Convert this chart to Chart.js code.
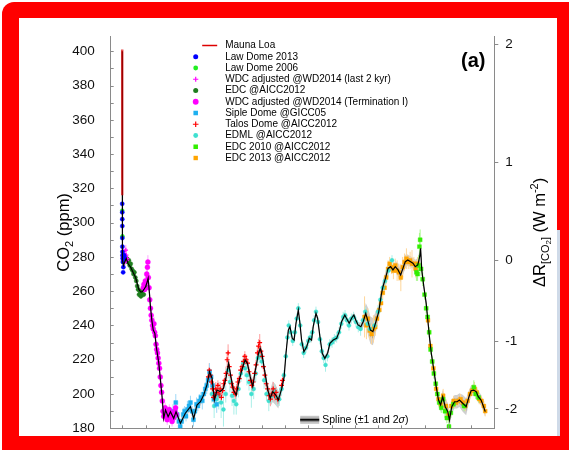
<!DOCTYPE html>
<html>
<head>
<meta charset="utf-8">
<script src="https://cdn.jsdelivr.net/npm/chart.js@4.4.1/dist/chart.umd.min.js"></script>
<style>
  html, body { margin: 0; padding: 0; background: #fff; }
  #wrap { position: relative; width: 569px; height: 450px; overflow: hidden; background: #fff; }
  #frame { position: absolute; left: 2px; top: 2px; width: 580px; height: 460px; background: #ff0000; border-radius: 12px; }
  #inner { position: absolute; left: 19px; top: 18px; width: 538px; height: 418px; background: #fff; }
  #strip { position: absolute; left: 557px; top: 230px; width: 3px; height: 206px; background: #cfdae8; }
  canvas { position: absolute; left: 0; top: 0; }
</style>
</head>
<body>
<div id="wrap">
  <div id="frame"></div>
  <div id="inner"></div>
  <div id="strip"></div>
  <canvas id="chart" width="569" height="450"></canvas>
</div>
<script>
const FONT = "'Liberation Sans', Arial, Helvetica, sans-serif";

// axis ranges
const ageMin = -5, ageMax = 160;
const co2Min = 180, co2Max = 408.6;
const C0 = 278;                      // reference CO2 for the forcing axis
const forcingTicks = [-2, -1, 0, 1, 2];

// Mauna Loa: [age kyr BP, CO2 ppm]
const maunaLoa = [[-0.065, 401], [-0.06, 390], [-0.05, 370], [-0.04, 353], [-0.03, 339], [-0.02, 327], [-0.008, 316]];

// ice core records: [age kyr BP, CO2 ppm, 1 sigma error]
const lawDome2013 = [[-0.04, 311, 1], [-0.025, 306, 1], [-0.01, 302, 1], [0.0, 298, 1], [0.02, 291, 1], [0.04, 286, 1],
  [0.07, 283, 1], [0.1, 281, 1], [0.15, 279, 1], [0.25, 277, 1], [0.35, 271, 1], [0.45, 274, 1], [0.6, 279, 1],
  [0.75, 281, 1], [0.9, 280, 1]];
const lawDome2006 = [[-0.03, 307, 1.5], [0.05, 292, 1.5], [0.3, 277, 1.5], [1.2, 279, 1.5], [1.8, 278, 1.5]];
const wdcLast2k = [[0.1, 280, 2], [0.3, 278, 2], [0.5, 281, 3], [0.7, 283, 2], [0.9, 279, 2], [1.1, 277, 2],
  [1.3, 280, 2], [1.5, 284, 3], [1.7, 281, 2], [1.9, 278, 2], [2.1, 279, 2]];
const edc = [[2.0, 279, 1.5], [2.4, 277, 1.5], [2.8, 278, 1.5], [3.2, 275, 1.5], [3.6, 276, 1.5], [4.0, 273, 1.5],
  [4.4, 272, 1.5], [4.8, 270, 1.5], [5.2, 271, 1.5], [5.6, 268, 1.5], [6.0, 266, 1.5], [6.4, 263, 1.5],
  [6.8, 261, 1.5], [7.2, 258, 1.5], [7.6, 260, 1.5], [8.0, 257, 1.5], [8.4, 259, 1.5], [8.8, 261, 1.5],
  [9.2, 258, 1.5], [9.6, 261, 1.5], [10.0, 263, 1.5]];
const wdcTermI = [[9.0, 262, 3], [9.3, 264, 3], [9.6, 261, 3], [9.9, 266, 3], [10.2, 265, 3], [10.5, 270, 4],
  [10.8, 274, 4], [11.0, 277, 4], [11.2, 268, 3], [11.5, 262, 3], [11.8, 255, 3], [12.1, 250, 3], [12.4, 246, 3],
  [12.7, 243, 3], [13.0, 240, 3], [13.3, 238, 3], [13.6, 241, 4], [13.9, 236, 3], [14.2, 234, 3], [14.5, 229, 3],
  [14.8, 226, 3], [15.1, 224, 3], [15.4, 221, 3], [15.7, 218, 3], [16.0, 215, 3], [16.3, 210, 3], [16.6, 205, 3],
  [16.9, 201, 3], [17.2, 196, 3], [17.5, 190, 3], [17.8, 187, 3], [18.1, 189, 3], [18.4, 192, 3], [18.7, 190, 3],
  [19.0, 188, 3], [19.3, 185, 3], [19.6, 187, 3], [19.9, 189, 3], [20.2, 191, 3], [20.5, 189, 3], [20.8, 188, 3],
  [21.1, 186, 3], [21.4, 184, 3], [21.7, 187, 3], [22.0, 186, 3], [22.3, 188, 3], [22.6, 190, 3], [22.9, 192, 3],
  [23.2, 188, 3]];
const sipleDome = [[21.8, 190, 4], [22.5, 187, 3], [23.0, 195, 5], [23.6, 188, 3], [24.3, 184, 4], [24.9, 181, 3],
  [25.5, 184, 3], [26.2, 188, 4], [26.8, 190, 3], [27.4, 187, 3], [28.0, 191, 5], [28.7, 193, 3], [29.3, 195, 4],
  [30.0, 190, 3], [30.6, 185, 4], [31.2, 190, 3], [31.9, 194, 4], [32.5, 193, 3], [33.1, 196, 4], [33.8, 198, 3],
  [34.4, 196, 5], [35.0, 200, 3], [35.7, 203, 4], [36.3, 205, 5], [36.9, 208, 3], [37.5, 213, 5], [38.2, 210, 4],
  [38.8, 205, 3], [39.4, 197, 5], [40.0, 200, 3], [40.6, 194, 5]];
const talosDome = [[37.0, 210, 3], [37.4, 214, 4], [37.8, 211, 3], [38.3, 207, 3], [38.8, 203, 3], [39.2, 198, 3],
  [39.7, 199, 3], [40.2, 203, 4], [40.6, 201, 3], [41.1, 205, 3], [41.6, 200, 3], [42.1, 203, 4], [42.6, 198, 3],
  [43.1, 202, 3], [43.6, 206, 3], [44.1, 208, 3], [44.6, 212, 4], [45.1, 220, 4], [45.5, 224, 5], [46.0, 216, 3],
  [46.5, 211, 3], [47.0, 206, 3], [47.5, 204, 3], [48.0, 201, 3], [48.6, 200, 3], [49.1, 203, 3], [49.7, 207, 3],
  [50.3, 209, 3], [50.9, 214, 3], [51.5, 216, 3], [52.1, 219, 4], [52.7, 222, 3], [53.3, 220, 3], [53.9, 218, 3],
  [54.5, 213, 3], [55.1, 208, 3], [55.7, 205, 3], [56.3, 207, 3], [56.9, 212, 3], [57.5, 217, 3], [58.1, 224, 4],
  [58.6, 228, 4], [59.1, 230, 5], [59.6, 225, 3], [60.1, 222, 3], [60.7, 216, 3], [61.3, 211, 3], [61.9, 206, 3],
  [62.5, 203, 3], [63.1, 199, 3], [63.7, 197, 4], [64.3, 200, 3], [64.9, 203, 4], [65.5, 199, 3], [66.1, 201, 3],
  [66.8, 197, 3], [68.5, 205, 3], [68.9, 208, 3]];
const edml = [[38.5, 200, 5], [39.5, 193, 7], [40.5, 197, 5], [41.5, 199, 8], [42.5, 195, 9], [43.5, 191, 10],
  [44.5, 200, 5], [45.5, 214, 5], [46.3, 207, 6], [47.2, 199, 6], [48.0, 196, 8], [49.0, 194, 6], [50.0, 203, 5],
  [51.0, 212, 5], [52.0, 218, 4], [52.8, 215, 5], [53.6, 211, 6], [54.5, 207, 5], [55.5, 200, 8], [56.5, 203, 6],
  [57.4, 212, 5], [58.3, 221, 4], [59.2, 222, 4], [60.0, 219, 4], [61.0, 208, 5], [62.0, 200, 4], [63.0, 196, 6],
  [64.2, 199, 4], [65.3, 202, 4], [66.5, 198, 5], [67.5, 197, 4], [68.5, 203, 4], [69.5, 211, 3], [70.3, 222, 3],
  [71.0, 233, 3], [71.6, 240, 3], [72.4, 236, 3], [73.3, 231, 3], [74.2, 236, 3], [75.0, 244, 3], [75.7, 250, 3],
  [76.5, 240, 3], [77.2, 229, 3], [78.0, 224, 3], [79.0, 227, 3], [80.0, 231, 3], [80.8, 233, 3], [81.7, 236, 3],
  [82.5, 243, 3], [83.3, 248, 3], [84.2, 242, 3], [85.0, 232, 3], [85.8, 225, 3], [86.6, 221, 3], [87.4, 217, 4],
  [88.2, 222, 3], [89.2, 229, 3], [90.2, 230, 3], [91.2, 232, 3], [92.2, 233, 3], [93.2, 236, 3], [94.2, 241, 3],
  [95.0, 245, 3], [95.8, 246, 3], [96.6, 243, 3], [97.5, 240, 3], [98.5, 244, 3], [99.5, 245, 3], [100.5, 242, 3],
  [101.5, 239, 3], [102.5, 238, 4], [103.5, 243, 3], [104.5, 248, 3], [105.5, 241, 3], [106.5, 238, 4],
  [108.5, 240, 3], [110.0, 248, 4], [111.0, 255, 3], [112.0, 262, 3], [113.0, 266, 3], [114.5, 272, 3],
  [116.0, 278, 3]];
const edc2010 = [[126.5, 271, 5], [127.0, 270, 4], [127.4, 275, 6], [127.8, 286, 8], [128.1, 290, 6], [128.5, 273, 4],
  [129.2, 267, 4], [130.0, 258, 3], [130.7, 250, 3], [131.3, 245, 3], [132.0, 236, 3], [132.6, 226, 3],
  [133.3, 219, 3], [134.0, 212, 3], [134.8, 206, 3], [135.5, 200, 3], [136.3, 195, 3], [137.2, 192, 3],
  [138.0, 197, 3], [138.8, 190, 4], [139.6, 186, 3], [140.5, 181, 4], [141.3, 189, 3], [142.4, 194, 3],
  [147.0, 193, 3], [151.2, 204, 4], [152.0, 200, 3], [153.2, 198, 3]];
const edc2013 = [[104.2, 245, 12], [105.0, 240, 8], [105.6, 244, 6], [106.4, 237, 5], [107.2, 235, 6], [108.0, 238, 8],
  [108.8, 239, 5], [109.6, 244, 4], [110.5, 249, 4], [111.3, 253, 5], [112.0, 259, 4], [112.8, 262, 4],
  [113.5, 268, 4], [114.3, 273, 5], [115.0, 276, 4], [115.8, 274, 4], [116.6, 272, 5], [117.4, 275, 4],
  [118.2, 272, 6], [119.0, 271, 5], [119.8, 268, 8], [120.6, 274, 6], [121.4, 277, 5], [122.2, 279, 6],
  [123.0, 277, 4], [123.8, 278, 5], [124.6, 276, 8], [125.4, 276, 4], [126.2, 273, 5], [127.0, 276, 4],
  [131.5, 243, 3], [132.5, 228, 3], [133.8, 215, 3], [135.0, 203, 3], [136.0, 197, 3], [137.0, 194, 3],
  [138.0, 199, 4], [139.2, 193, 4], [140.3, 188, 4], [141.5, 193, 3], [142.5, 196, 3], [143.5, 195, 3],
  [144.5, 196, 3], [145.5, 197, 3], [146.5, 195, 3], [147.5, 193, 3], [148.5, 196, 3], [149.5, 200, 3],
  [150.5, 202, 3], [151.5, 203, 4], [152.5, 201, 3], [153.5, 197, 3], [154.5, 196, 3], [155.5, 193, 3],
  [156.1, 190, 3]];

// smoothing spline: [age kyr BP, CO2 ppm, 1 sigma]
const spline = [[-0.065, 400, 0.8], [-0.04, 355, 0.8], [-0.02, 326, 0.8], [0.0, 311, 0.8], [0.05, 296, 0.8],
  [0.1, 285, 0.8], [0.2, 278, 0.8], [0.5, 275, 0.8], [1.0, 277, 0.8], [1.7, 279, 0.8], [2.5, 276, 0.8],
  [3.6, 274, 0.8], [4.6, 271, 0.8], [5.7, 268, 0.8], [6.5, 264, 0.8], [7.1, 261, 0.8], [8.0, 259.5, 0.8],
  [8.6, 259.7, 0.8], [9.3, 261, 0.8], [10.0, 262.6, 0.8], [10.6, 265, 1], [11.1, 267.5, 1.2], [11.6, 260, 1.2],
  [12.1, 251, 1.2], [12.7, 243, 1.2], [13.3, 237.3, 1.2], [14.0, 235.4, 1.2], [14.6, 227.6, 1.2],
  [15.7, 217.9, 1.2], [16.4, 208, 1.2], [17.1, 198.4, 1.2], [17.8, 185.8, 1.2], [18.6, 190.7, 1.2],
  [19.7, 186.8, 1.2], [20.7, 189.7, 1.2], [22.1, 185.8, 1.2], [23.1, 189.7, 1.2], [25.0, 182.9, 1.2],
  [27.1, 188.8, 1.2], [29.3, 192.6, 1.2], [30.7, 185.8, 1.2], [32.1, 193.6, 1.2], [33.6, 195.5, 1.2],
  [35.0, 199.4, 1.2], [36.4, 205.3, 1.2], [37.5, 213, 1.6], [38.6, 209.2, 1.6], [39.6, 196.5, 1.6],
  [40.7, 202.3, 1.2], [42.1, 201.4, 1.2], [43.5, 203.3, 1.2], [44.7, 210.1, 1.2], [45.7, 217.9, 1.2],
  [46.7, 210.1, 1.2], [47.8, 202.3, 1.2], [49.0, 199.4, 1.2], [50.0, 206.3, 1.2], [51.4, 214, 1.2],
  [52.8, 219.9, 1.2], [53.8, 217.9, 1.2], [55.0, 210.1, 1.6], [56.1, 204.3, 2], [57.1, 213, 1.6],
  [58.6, 223.8, 1.2], [59.3, 226.7, 1.2], [60.0, 223.8, 1.2], [61.4, 212.1, 1.2], [62.6, 202.3, 1.6],
  [63.6, 197.5, 2.5], [64.7, 201.4, 3], [66.0, 199.4, 3], [67.1, 196.5, 2.5], [68.6, 203.3, 1.6],
  [69.6, 210, 1.2], [70.4, 223.8, 1.2], [71.4, 237.3, 0.8], [72.1, 239.3, 0.8], [73.1, 232.5, 0.8],
  [73.9, 231.5, 0.8], [74.7, 241.3, 0.8], [75.7, 249, 0.8], [76.4, 241.3, 0.8], [77.1, 231.5, 0.8],
  [78.1, 224.7, 0.8], [79.3, 227.6, 0.8], [80.4, 232.5, 0.8], [81.4, 231.5, 0.8], [82.1, 239.3, 0.8],
  [83.3, 247.1, 0.8], [84.0, 244.2, 0.8], [85.0, 233.4, 0.8], [86.0, 223.8, 0.8], [87.1, 220.8, 0.8],
  [88.3, 223.8, 0.8], [89.3, 229.6, 0.8], [90.7, 231.5, 0.8], [92.2, 232.5, 0.8], [93.3, 236.4, 0.8],
  [94.3, 242.2, 0.8], [95.7, 246.1, 0.8], [96.4, 244.2, 0.8], [97.6, 241.3, 0.8], [98.6, 244.2, 0.8],
  [99.6, 246.1, 0.8], [100.4, 243.2, 0.8], [101.4, 240.3, 0.8], [102.6, 239.3, 1.2], [103.6, 242.2, 1.6],
  [104.7, 247.1, 3], [105.7, 242.2, 4], [106.7, 237.3, 4], [107.8, 236.4, 4], [109.3, 243.2, 3],
  [110.3, 248.1, 2], [111.4, 258, 2], [112.1, 262.6, 2], [113.2, 267.5, 2], [114.3, 273.3, 1.6],
  [115.4, 274.3, 1.2], [116.4, 272.4, 1.2], [117.4, 274.3, 1.6], [118.6, 272.4, 2], [119.7, 269.4, 2],
  [120.7, 273.3, 2], [121.7, 277.2, 2], [122.8, 278.2, 1.6], [124.0, 277.2, 1.6], [125.0, 276.3, 1.6],
  [126.0, 274.3, 2], [127.1, 275.3, 2], [127.9, 280.1, 2], [128.3, 285, 2], [128.8, 272.4, 1.6],
  [129.7, 262.6, 1.2], [130.7, 252.9, 1.2], [131.4, 243.2, 1.2], [132.1, 233.4, 1.2], [132.9, 223.8, 1.2],
  [134.0, 214, 1.2], [135.0, 204.3, 1.2], [136.0, 196.5, 1.6], [136.9, 193.6, 2], [137.8, 198.4, 2],
  [138.9, 192.6, 2.5], [140.0, 189.7, 2.5], [140.7, 184.8, 2.5], [141.7, 192.6, 2], [142.9, 195.5, 2],
  [144.0, 195.5, 2], [145.0, 196.5, 2], [146.4, 194.6, 2.5], [147.9, 192.6, 2.5], [148.9, 197.5, 2],
  [150.0, 201.9, 1.6], [151.1, 202.3, 1.6], [152.2, 201.4, 1.6], [153.1, 198.4, 1.6], [154.3, 196.5, 1.6],
  [155.4, 192.6, 1.6], [156.1, 189.7, 1.6]];

const pts = arr => arr.map(([x, y]) => ({ x, y }));
const bars = arr => arr.flatMap(([x, y, e]) => [{ x, y: y - e }, { x, y: y + e }, { x, y: null }]);
const band = (arr, k) => arr.map(([x, y, s]) => ({ x, y: y + k * s }));

// legend order
const series = [
  { label: 'Law Dome 2013', data: lawDome2013, color: '#0000ff', bar: '#8080ff', style: 'circle', r: 2.1, order: 3 },
  { label: 'Law Dome 2006', data: lawDome2006, color: '#22ee22', bar: '#99f799', style: 'circle', r: 2, order: 12 },
  { label: 'WDC adjusted @WD2014 (last 2 kyr)', data: wdcLast2k, color: '#ff00ff', bar: '#ff99ff', style: 'cross', r: 2.2, order: 7 },
  { label: 'EDC @AICC2012', data: edc, color: '#1e7d1e', bar: '#8fbf8f', style: 'circle', r: 2.1, order: 8 },
  { label: 'WDC adjusted @WD2014 (Termination I)', data: wdcTermI, color: '#ff00ff', bar: '#ffa8ff', style: 'circle', r: 2.5, order: 6 },
  { label: 'Siple Dome @GICC05', data: sipleDome, color: '#1eb0f0', bar: '#9fd9f7', style: 'rect', r: 2.8, order: 9 },
  { label: 'Talos Dome @AICC2012', data: talosDome, color: '#ff0000', bar: '#ff9d9d', style: 'cross', r: 2.4, order: 4 },
  { label: 'EDML @AICC2012', data: edml, color: '#3fe0d0', bar: '#a9efe8', style: 'circle', r: 2, order: 10 },
  { label: 'EDC 2010 @AICC2012', data: edc2010, color: '#33ee00', bar: '#a6f78a', style: 'rect', r: 2.8, order: 5 },
  { label: 'EDC 2013 @AICC2012', data: edc2013, color: '#ffa500', bar: '#ffd699', style: 'rect', r: 2.7, order: 11 }
];

const datasets = [
  { data: band(spline, 2), showLine: true, borderWidth: 0, pointRadius: 0, fill: '+1', backgroundColor: '#cfcfcf', order: 52 },
  { data: band(spline, -2), showLine: true, borderWidth: 0, pointRadius: 0, fill: false, order: 52 },
  { data: band(spline, 1), showLine: true, borderWidth: 0, pointRadius: 0, fill: '+1', backgroundColor: '#a3a3a3', order: 51 },
  { data: band(spline, -1), showLine: true, borderWidth: 0, pointRadius: 0, fill: false, order: 51 },
  { data: pts(spline), showLine: true, borderColor: '#000', borderWidth: 1.2, pointRadius: 0, order: 1 },
  { legendLabel: 'Mauna Loa', legendLine: true, legendColor: '#dd0000', data: pts(maunaLoa), showLine: true,
    borderColor: 'rgba(220,0,0,0.7)', borderWidth: 2.4, pointRadius: 0, order: 0 }
];
series.forEach(s => {
  datasets.push({ data: bars(s.data), showLine: true, borderColor: s.bar, borderWidth: 1, pointRadius: 0, order: 30 });
  datasets.push({
    legendLabel: s.label, data: pts(s.data), pointStyle: s.style, pointRadius: s.r,
    backgroundColor: s.color, borderColor: s.color, borderWidth: s.style === 'cross' ? 1.2 : 0.4, order: s.order
  });
});

function marker(ctx, style, x, y, r, color) {
  ctx.fillStyle = color; ctx.strokeStyle = color; ctx.lineWidth = 1.2;
  ctx.beginPath();
  if (style === 'circle') { ctx.arc(x, y, r, 0, Math.PI * 2); ctx.fill(); }
  else if (style === 'rect') { const h = r * Math.SQRT1_2; ctx.fillRect(x - h, y - h, 2 * h, 2 * h); }
  else { ctx.moveTo(x - r, y); ctx.lineTo(x + r, y); ctx.moveTo(x, y - r); ctx.lineTo(x, y + r); ctx.stroke(); }
}

// inward ticks on left and bottom axes
const innerTicks = {
  id: 'innerTicks',
  afterDraw(chart) {
    const { ctx, chartArea: a, scales } = chart;
    ctx.save();
    ctx.strokeStyle = '#8a8a8a'; ctx.lineWidth = 1;
    ctx.beginPath();
    scales.y.ticks.forEach(t => {
      const py = Math.round(scales.y.getPixelForValue(t.value)) + 0.5;
      ctx.moveTo(a.left, py); ctx.lineTo(a.left + 3, py);
    });
    scales.x.ticks.forEach(t => {
      const px = Math.round(scales.x.getPixelForValue(t.value)) + 0.5;
      ctx.moveTo(px, a.bottom); ctx.lineTo(px, a.bottom - 3);
    });
    ctx.stroke();
    ctx.restore();
  }
};

function richText(ctx, parts, x, y, rot) {
  ctx.save();
  ctx.translate(x, y); ctx.rotate(rot);
  let total = 0;
  parts.forEach(p => { ctx.font = p.f; total += ctx.measureText(p.t).width; });
  let cx = -total / 2;
  ctx.textBaseline = 'alphabetic'; ctx.textAlign = 'left'; ctx.fillStyle = '#000';
  parts.forEach(p => { ctx.font = p.f; ctx.fillText(p.t, cx, p.dy || 0); cx += ctx.measureText(p.t).width; });
  ctx.restore();
}

// axis titles, panel tag and legend
const decorations = {
  id: 'decorations',
  afterDraw(chart) {
    const { ctx, chartArea: a } = chart;
    const midY = (a.top + a.bottom) / 2;
    const big = '16.5px ' + FONT, sub = '11px ' + FONT, tiny = '8px ' + FONT;
    richText(ctx, [{ t: 'CO', f: big }, { t: '2', f: sub, dy: 4 }, { t: ' (ppm)', f: big }], a.left - 42, midY, -Math.PI / 2);
    richText(ctx, [{ t: 'ΔR', f: big }, { t: '[CO', f: sub, dy: 4 }, { t: '2', f: tiny, dy: 6 }, { t: ']', f: sub, dy: 4 },
      { t: ' (W m', f: big }, { t: '-2', f: sub, dy: -7 }, { t: ')', f: big }], a.right + 51, midY, -Math.PI / 2);

    ctx.save();
    ctx.font = 'bold 20px ' + FONT; ctx.fillStyle = '#000';
    ctx.textAlign = 'center'; ctx.textBaseline = 'middle';
    ctx.fillText('(a)', a.right - 21, a.top + 25);

    const markX = a.left + 85, textX = a.left + 114.5;
    let y = a.top + 9;
    ctx.font = '10px ' + FONT; ctx.textAlign = 'left';
    chart.data.datasets.forEach(ds => {
      if (!ds.legendLabel) return;
      if (ds.legendLine) {
        ctx.strokeStyle = ds.legendColor; ctx.lineWidth = 1.5;
        ctx.beginPath(); ctx.moveTo(a.left + 91.5, y); ctx.lineTo(a.left + 106.5, y); ctx.stroke();
      } else {
        marker(ctx, ds.pointStyle, markX, y, ds.pointRadius + 0.4, ds.backgroundColor);
      }
      ctx.fillStyle = '#000';
      ctx.fillText(ds.legendLabel, textX, y);
      y += 11.25;
    });

    // spline legend
    const sx = a.left + 189.5, sy = a.bottom - 8.5;
    ctx.fillStyle = '#c4c4c4'; ctx.fillRect(sx, sy - 4, 19, 8);
    ctx.fillStyle = '#8c8c8c'; ctx.fillRect(sx, sy - 2, 19, 4);
    ctx.strokeStyle = '#000'; ctx.lineWidth = 1.5;
    ctx.beginPath(); ctx.moveTo(sx, sy); ctx.lineTo(sx + 19, sy); ctx.stroke();
    ctx.fillStyle = '#000'; ctx.font = '10.5px ' + FONT;
    ctx.fillText('Spline (±1 and 2', sx + 22, sy + 0.5);
    const w = ctx.measureText('Spline (±1 and 2').width;
    ctx.font = 'italic 10.5px ' + FONT;
    ctx.fillText('σ', sx + 22 + w, sy + 0.5);
    const w2 = ctx.measureText('σ').width;
    ctx.font = '10.5px ' + FONT;
    ctx.fillText(')', sx + 22 + w + w2, sy + 0.5);
    ctx.restore();
  }
};

Chart.defaults.font.family = FONT;

new Chart(document.getElementById('chart'), {
  type: 'scatter',
  data: { datasets },
  options: {
    responsive: false,
    animation: false,
    layout: { padding: { top: 36.5, left: 0, right: 0, bottom: 0 } },
    plugins: { legend: { display: false }, tooltip: { enabled: false } },
    scales: {
      x: {
        type: 'linear', min: ageMin, max: ageMax,
        grid: { display: false }, border: { color: '#8a8a8a' },
        ticks: { display: false, stepSize: 10, includeBounds: false },
        afterFit(s) { s.height = 21.7; }
      },
      y: {
        min: co2Min, max: co2Max, position: 'left',
        grid: { display: false }, border: { color: '#8a8a8a' },
        ticks: {
          stepSize: 10, includeBounds: false, autoSkip: false, padding: 8, color: '#111',
          font: { size: 13.5 }, callback: v => (v % 20 === 0 ? String(v) : '')
        },
        afterFit(s) { s.width = 110.7; }
      },
      y2: {
        min: co2Min, max: co2Max, position: 'right',
        grid: { display: true, drawOnChartArea: false, drawTicks: true, tickLength: 4, color: '#8a8a8a' },
        border: { color: '#8a8a8a' },
        ticks: { autoSkip: false, padding: 7, color: '#111', font: { size: 13.5 }, callback: (v, i) => String(forcingTicks[i]) },
        afterBuildTicks(s) { s.ticks = forcingTicks.map(f => ({ value: C0 * Math.exp(f / 5.35) })); },
        afterFit(s) { s.width = 74.7; }
      }
    }
  },
  plugins: [innerTicks, decorations]
});
</script>
</body>
</html>
